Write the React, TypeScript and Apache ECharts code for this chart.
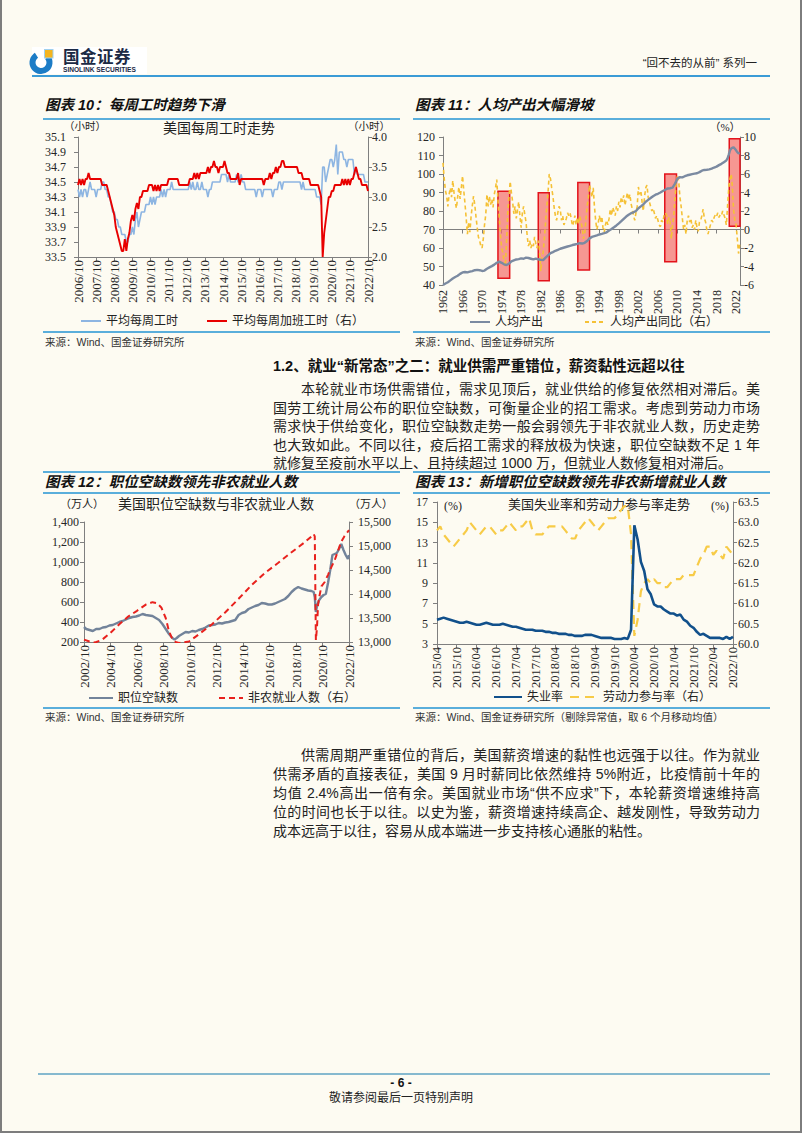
import React, { useEffect, useRef } from "react";
import * as echarts from "echarts";

const SERIF = "'Liberation Serif', 'Times New Roman', serif";
const CJK = "'Liberation Serif', 'Noto Sans CJK SC', serif";
const SANSCJK = "'Liberation Sans', 'Noto Sans CJK SC', sans-serif";
const AXIS_COLOR = "#7f7f7f";
const LABEL_COLOR = "#262626";
const RULE = "#5aaedb";

// ---------- Chart 10: weekly hours (monthly, 2006/10 - 2022/10) ----------
const hoursStart: [number, number] = [2006, 10];
const avgWeeklyHours = [
  34.4, 34.3, 34.4,
  34.3, 34.4, 34.4, 34.3, 34.4, 34.5, 34.4, 34.4, 34.4, 34.3, 34.4, 34.4,
  34.4, 34.5, 34.5, 34.4, 34.4, 34.3, 34.3, 34.2, 34.1, 34.1, 34.0, 34.0,
  33.9, 33.9, 33.8, 33.8, 33.8, 33.7, 33.7, 33.8, 33.8, 33.9, 33.8, 34.0,
  34.1, 33.9, 34.0, 34.1, 34.1, 34.1, 34.2, 34.2, 34.2, 34.3, 34.2, 34.3,
  34.2, 34.3, 34.3, 34.3, 34.4, 34.3, 34.4, 34.3, 34.4, 34.4, 34.4, 34.5,
  34.4, 34.4, 34.4, 34.4, 34.4, 34.4, 34.4, 34.4, 34.4, 34.4, 34.4, 34.5,
  34.4, 34.5, 34.4, 34.4, 34.5, 34.4, 34.4, 34.5, 34.4, 34.4, 34.4, 34.3,
  34.4, 34.4, 34.5, 34.5, 34.5, 34.5, 34.5, 34.5, 34.6, 34.6, 34.6, 34.6,
  34.5, 34.6, 34.5, 34.5, 34.5, 34.5, 34.6, 34.5, 34.5, 34.6, 34.5, 34.5,
  34.4, 34.4, 34.4, 34.4, 34.4, 34.4, 34.4, 34.3, 34.4, 34.4, 34.4, 34.3,
  34.4, 34.4, 34.4, 34.4, 34.4, 34.4, 34.3, 34.4, 34.4, 34.4, 34.5, 34.5,
  34.4, 34.5, 34.5, 34.5, 34.5, 34.5, 34.5, 34.5, 34.5, 34.5, 34.5, 34.5,
  34.5, 34.4, 34.5, 34.4, 34.4, 34.4, 34.4, 34.4, 34.4, 34.4, 34.4, 34.3,
  34.3, 34.3, 34.2, 34.7, 34.7, 34.5, 34.6, 34.7, 34.8, 34.8, 34.7, 34.8,
  35.0, 34.6, 34.9, 34.9, 34.9, 34.8, 34.8, 34.7, 34.8, 34.8, 34.8, 34.8,
  34.6, 34.7, 34.6, 34.6, 34.6, 34.6, 34.6, 34.5, 34.5, 34.5,
];
const avgOvertimeHours = [
  3.2, 3.3, 3.2,
  3.3, 3.2, 3.3, 3.3, 3.4, 3.3, 3.3, 3.3, 3.3, 3.3, 3.3, 3.3,
  3.3, 3.2, 3.2, 3.2, 3.2, 3.1, 3.0, 2.9, 2.8, 2.7, 2.5, 2.4,
  2.3, 2.2, 2.1, 2.1, 2.3, 2.1, 2.3, 2.4, 2.6, 2.7, 2.6, 2.8,
  2.9, 2.8, 3.0, 3.0, 3.1, 3.1, 3.1, 3.1, 3.2, 3.2, 3.2, 3.1,
  3.2, 3.1, 3.2, 3.1, 3.2, 3.2, 3.2, 3.2, 3.2, 3.3, 3.3, 3.3,
  3.3, 3.3, 3.3, 3.3, 3.2, 3.2, 3.2, 3.2, 3.2, 3.2, 3.2, 3.3,
  3.3, 3.3, 3.4, 3.3, 3.4, 3.3, 3.4, 3.4, 3.4, 3.4, 3.4, 3.5,
  3.4, 3.5, 3.5, 3.6, 3.5, 3.5, 3.4, 3.5, 3.5, 3.5, 3.6, 3.5,
  3.4, 3.4, 3.3, 3.3, 3.3, 3.3, 3.3, 3.4, 3.2, 3.3, 3.3, 3.3,
  3.3, 3.3, 3.3, 3.3, 3.3, 3.3, 3.3, 3.3, 3.3, 3.3, 3.3, 3.3,
  3.2, 3.3, 3.3, 3.3, 3.4, 3.3, 3.4, 3.4, 3.5, 3.4, 3.5, 3.5,
  3.6, 3.6, 3.5, 3.5, 3.5, 3.5, 3.5, 3.5, 3.5, 3.5, 3.5, 3.4,
  3.4, 3.4, 3.3, 3.3, 3.3, 3.3, 3.3, 3.2, 3.2, 3.2, 3.2, 3.2,
  3.2, 3.1, 3.0, 2.0, 2.4, 2.6, 2.8, 3.0, 3.0, 3.1, 3.1, 3.2,
  3.2, 3.2, 3.2, 3.2, 3.3, 3.2, 3.3, 3.2, 3.3, 3.2, 3.3, 3.3,
  3.4, 3.5, 3.4, 3.3, 3.3, 3.2, 3.2, 3.2, 3.2, 3.1,
];

// ---------- Chart 11: output per capita (index) and YoY % ----------
const outputIndex: [number, number][] = [
  [1962, 40], [1962.5, 40.8], [1963, 41.5], [1963.5, 42.5], [1964, 43.5], [1964.5, 44.3], [1965, 45], [1965.5, 46],
  [1966, 46.8], [1966.5, 47], [1967, 46.8], [1967.5, 47.2], [1968, 47.5], [1968.5, 48], [1969, 48.2], [1969.5, 48],
  [1970, 47.6], [1970.5, 47.8], [1971, 48.8], [1971.5, 49.5], [1972, 50.2], [1972.5, 51], [1973, 52], [1973.5, 52.6],
  [1974, 52], [1974.5, 51.2], [1975, 50.8], [1975.5, 51.5], [1976, 52.8], [1976.5, 53.3], [1977, 53.8], [1977.5, 54],
  [1978, 54.4], [1978.5, 54.2], [1979, 54.8], [1979.5, 54.6], [1980, 54.2], [1980.5, 53.8], [1981, 54.3], [1981.5, 53.9],
  [1982, 53.6], [1982.5, 53.5], [1983, 54.8], [1983.5, 56], [1984, 57.2], [1984.5, 57.8], [1985, 58.5], [1985.5, 59],
  [1986, 59.6], [1986.5, 60], [1987, 60.4], [1987.5, 60.8], [1988, 61.2], [1988.5, 61.6], [1989, 61.9], [1989.5, 62.2],
  [1990, 62.6], [1990.5, 62.4], [1991, 62.8], [1991.5, 63.8], [1992, 65.2], [1992.5, 66], [1993, 66.4], [1993.5, 66.8],
  [1994, 67.3], [1994.5, 67.6], [1995, 68], [1995.5, 68.5], [1996, 69.5], [1996.5, 70.3], [1997, 71.2], [1997.5, 72.2],
  [1998, 73.3], [1998.5, 74.5], [1999, 75.8], [1999.5, 77], [2000, 78], [2000.5, 78.8], [2001, 79.3], [2001.5, 80],
  [2002, 81.5], [2002.5, 82.5], [2003, 83.6], [2003.5, 85], [2004, 86], [2004.5, 87], [2005, 88], [2005.5, 88.8],
  [2006, 89.3], [2006.5, 90], [2007, 90.8], [2007.5, 91.5], [2008, 92.2], [2008.5, 92.3], [2009, 92.6], [2009.5, 94.8],
  [2010, 97.5], [2010.5, 98.3], [2011, 98.2], [2011.5, 98.8], [2012, 99.3], [2012.5, 99.6], [2013, 99.9], [2013.5, 100.2],
  [2014, 100.4], [2014.5, 101], [2015, 101.8], [2015.5, 102.2], [2016, 102.3], [2016.5, 102.5], [2017, 102.9], [2017.5, 103.5],
  [2018, 104], [2018.5, 104.8], [2019, 105.5], [2019.5, 106.4], [2020, 107.3], [2020.25, 108.5], [2020.5, 110.5], [2020.75, 112.8],
  [2021, 113.8], [2021.25, 114.2], [2021.5, 114.4], [2021.75, 113.6], [2022, 112.8], [2022.25, 111.8], [2022.5, 111.2], [2022.75, 111.4],
];
const outputYoY: [number, number][] = [
  [1962, 7.2], [1962.25, 5.5], [1962.5, 4.2], [1962.75, 3.6], [1963, 2.5], [1963.25, 3.8], [1963.5, 4.5], [1963.75, 3.5],
  [1964, 5.3], [1964.25, 4], [1964.5, 3], [1964.75, 2.3], [1965, 3.5], [1965.25, 4.6], [1965.5, 3.3], [1965.75, 4.5],
  [1966, 5.8], [1966.25, 4.2], [1966.5, 2.8], [1966.75, 1.2], [1967, -0.5], [1967.25, 0.8], [1967.5, -0.3], [1967.75, 1.4],
  [1968, 2.6], [1968.25, 3.6], [1968.5, 2.7], [1968.75, 1.4], [1969, 0.2], [1969.25, -0.8], [1969.5, -1.2], [1969.75, -1.8],
  [1970, -2], [1970.25, -1], [1970.5, 0.5], [1970.75, 1.6], [1971, 3.8], [1971.25, 2.5], [1971.5, 3.6], [1971.75, 2.7],
  [1972, 3.3], [1972.25, 2.4], [1972.5, 3.8], [1972.75, 4.5], [1973, 5.4], [1973.25, 3.2], [1973.5, 1.5], [1973.75, -0.5],
  [1974, -2], [1974.25, -2.5], [1974.5, -3.4], [1974.75, -4], [1975, -1.5], [1975.25, 1.8], [1975.5, 3.5], [1975.75, 5.2],
  [1976, 4], [1976.25, 3], [1976.5, 1.7], [1976.75, 2.5], [1977, 1.2], [1977.25, 2.1], [1977.5, 3], [1977.75, 1.4],
  [1978, 0.2], [1978.25, 1.8], [1978.5, 2.5], [1978.75, 1.6], [1979, 0.8], [1979.25, -0.8], [1979.5, -1.8], [1979.75, -1.2],
  [1980, -2], [1980.25, -1.5], [1980.5, -1.8], [1980.75, -0.8], [1981, -1.5], [1981.25, -2], [1981.5, -1.2], [1981.75, -2.2],
  [1982, -4.5], [1982.25, -3], [1982.5, -2.5], [1982.75, -1], [1983, 0.8], [1983.25, 2.5], [1983.5, 4], [1983.75, 6],
  [1984, 5.5], [1984.25, 4.5], [1984.5, 3.6], [1984.75, 2.4], [1985, 1.5], [1985.25, 1], [1985.5, 1.8], [1985.75, 2.5],
  [1986, 2.2], [1986.25, 1], [1986.5, 1.5], [1986.75, 0.5], [1987, 0.8], [1987.25, 1.2], [1987.5, 1.8], [1987.75, 1.5],
  [1988, 1.8], [1988.25, 1.2], [1988.5, 0.4], [1988.75, 0.8], [1989, 1.5], [1989.25, 0.5], [1989.5, 1.3], [1989.75, 0.6],
  [1990, 1.5], [1990.25, 0.8], [1990.5, 0.2], [1990.75, -1], [1991, -0.5], [1991.25, 1], [1991.5, 2.5], [1991.75, 3.5],
  [1992, 4.8], [1992.25, 4.2], [1992.5, 3.5], [1992.75, 4.5], [1993, 2.5], [1993.25, 1], [1993.5, 0], [1993.75, 0.6],
  [1994, 1.5], [1994.25, 0.8], [1994.5, 1.4], [1994.75, 0.2], [1995, -0.3], [1995.25, 0.5], [1995.5, 1], [1995.75, 0.5],
  [1996, 1.2], [1996.25, 2.2], [1996.5, 1.5], [1996.75, 2.4], [1997, 2], [1997.25, 1.5], [1997.5, 2.5], [1997.75, 2],
  [1998, 3], [1998.25, 2.4], [1998.5, 3.5], [1998.75, 3], [1999, 3.7], [1999.25, 2.6], [1999.5, 3.3], [1999.75, 4],
  [2000, 3.2], [2000.25, 3.8], [2000.5, 2.8], [2000.75, 2.2], [2001, 1.5], [2001.25, 1], [2001.5, 1.8], [2001.75, 2.5],
  [2002, 4.6], [2002.25, 3.8], [2002.5, 4.2], [2002.75, 3], [2003, 2], [2003.25, 3.5], [2003.5, 4.5], [2003.75, 4.8],
  [2004, 3.5], [2004.25, 3], [2004.5, 2.5], [2004.75, 2], [2005, 2.3], [2005.25, 1.8], [2005.5, 1.2], [2005.75, 1.5],
  [2006, 1], [2006.25, 0.5], [2006.5, 0.3], [2006.75, 1], [2007, 0.8], [2007.25, 1.5], [2007.5, 1.8], [2007.75, 1.6],
  [2008, 0.6], [2008.25, 1.3], [2008.5, 0.8], [2008.75, -1], [2009, 0.5], [2009.25, 1.5], [2009.5, 3.5], [2009.75, 5],
  [2010, 5.9], [2010.25, 5.2], [2010.5, 3.5], [2010.75, 2.5], [2011, 1.2], [2011.25, 0], [2011.5, 0.5], [2011.75, -0.5],
  [2012, 1], [2012.25, 1.5], [2012.5, 0.8], [2012.75, 1.2], [2013, 0.2], [2013.25, 0.5], [2013.5, 0], [2013.75, 1],
  [2014, 0.2], [2014.25, -0.2], [2014.5, 0.8], [2014.75, 1], [2015, 1.5], [2015.25, 2.2], [2015.5, 1.2], [2015.75, 0.8],
  [2016, 0], [2016.25, -0.5], [2016.5, 0], [2016.75, 0.5], [2017, 1], [2017.25, 0.8], [2017.5, 1.3], [2017.75, 1.6],
  [2018, 1.4], [2018.25, 1.8], [2018.5, 1.3], [2018.75, 1.6], [2019, 1.5], [2019.25, 2], [2019.5, 1.6], [2019.75, 1.2],
  [2020, 0.5], [2020.25, 2.5], [2020.5, 4.5], [2020.75, 5.5], [2021, 6], [2021.25, 4.5], [2021.5, 2], [2021.75, 1],
  [2022, 0.5], [2022.25, -1], [2022.5, -2.6], [2022.75, -1.5],
];
// highlighted periods: [start, end, low, high] (left-axis units)
const highlightPeriods: [number, number, number, number][] = [
  [1973.25, 1975.65, 43.6, 90.7],
  [1981.5, 1983.75, 42.3, 89.8],
  [1989.6, 1992.0, 48.1, 95.4],
  [2007.4, 2009.8, 52.6, 100.0],
  [2020.6, 2022.8, 71.8, 119.1],
];

// ---------- Chart 12: job openings & nonfarm payrolls (万人) ----------
const jobOpenings: [string, number][] = [
  ["2002/10", 350], ["2002/12", 330], ["2003/03", 320], ["2003/06", 310], ["2003/09", 330], ["2003/12", 330],
  ["2004/03", 345], ["2004/06", 350], ["2004/09", 365], ["2004/12", 370], ["2005/03", 385], ["2005/06", 400],
  ["2005/09", 410], ["2005/12", 425], ["2006/03", 440], ["2006/06", 450], ["2006/09", 455], ["2006/12", 465],
  ["2007/03", 480], ["2007/06", 470], ["2007/09", 465], ["2007/12", 460], ["2008/03", 440], ["2008/06", 420],
  ["2008/09", 380], ["2008/12", 330], ["2009/03", 280], ["2009/06", 240], ["2009/08", 225], ["2009/10", 240],
  ["2009/12", 260], ["2010/03", 280], ["2010/06", 300], ["2010/09", 295], ["2010/12", 310], ["2011/03", 305],
  ["2011/06", 320], ["2011/09", 330], ["2011/12", 345], ["2012/03", 365], ["2012/06", 370], ["2012/09", 375],
  ["2012/12", 390], ["2013/03", 385], ["2013/06", 395], ["2013/09", 400], ["2013/12", 410], ["2014/03", 420],
  ["2014/06", 470], ["2014/09", 490], ["2014/12", 500], ["2015/03", 530], ["2015/06", 545], ["2015/09", 560],
  ["2015/12", 570], ["2016/03", 590], ["2016/06", 585], ["2016/09", 575], ["2016/12", 575], ["2017/03", 585],
  ["2017/06", 600], ["2017/09", 615], ["2017/12", 630], ["2018/03", 660], ["2018/06", 700], ["2018/09", 730],
  ["2018/12", 750], ["2019/03", 735], ["2019/06", 725], ["2019/09", 715], ["2019/12", 710], ["2020/02", 700],
  ["2020/03", 650], ["2020/04", 500], ["2020/05", 560], ["2020/07", 620], ["2020/09", 650], ["2020/11", 670],
  ["2021/01", 680], ["2021/03", 790], ["2021/05", 920], ["2021/07", 1070], ["2021/09", 1080], ["2021/11", 1090],
  ["2022/01", 1130], ["2022/03", 1180], ["2022/05", 1120], ["2022/07", 1070], ["2022/09", 1030], ["2022/10", 1070],
];
const nonfarmPayrolls: [string, number][] = [
  ["2002/10", 13050], ["2003/03", 13010], ["2003/08", 12990], ["2004/02", 13040], ["2004/10", 13190],
  ["2005/06", 13370], ["2006/02", 13530], ["2006/10", 13650], ["2007/06", 13780], ["2007/12", 13830],
  ["2008/04", 13810], ["2008/08", 13720], ["2008/12", 13500], ["2009/03", 13220], ["2009/06", 13060],
  ["2009/09", 13000], ["2009/12", 12980], ["2010/03", 12990], ["2010/09", 13010], ["2011/06", 13160],
  ["2012/06", 13370], ["2013/06", 13620], ["2014/06", 13900], ["2015/06", 14190], ["2016/06", 14440],
  ["2017/06", 14650], ["2018/06", 14870], ["2019/06", 15080], ["2019/12", 15200], ["2020/02", 15250],
  ["2020/03", 15200], ["2020/04", 13040], ["2020/05", 13300], ["2020/06", 13780], ["2020/07", 13930],
  ["2020/09", 14160], ["2020/12", 14250], ["2021/03", 14400], ["2021/06", 14560], ["2021/09", 14700],
  ["2021/12", 14900], ["2022/03", 15090], ["2022/06", 15210], ["2022/10", 15330],
];

// ---------- Chart 13: unemployment rate & participation (monthly, 2015/04 - 2022/10) ----------
const ratesStart: [number, number] = [2015, 4];
const unemploymentRate = [
  5.4, 5.5, 5.6, 5.5, 5.4, 5.3, 5.2, 5.1, 5.1,
  5.2, 5.1, 5.0, 4.9, 4.9, 5.0, 5.1, 5.0, 4.9, 4.9, 4.9, 5.0,
  4.9, 4.8, 4.7, 4.7, 4.6, 4.5, 4.4, 4.4, 4.4, 4.3, 4.3, 4.3,
  4.2, 4.2, 4.1, 4.1, 4.0, 4.0, 4.0, 3.9, 3.9, 3.8, 3.8, 3.8,
  3.9, 3.9, 3.9, 3.8, 3.7, 3.6, 3.6, 3.6, 3.6, 3.5, 3.5, 3.5,
  3.6, 3.5, 4.4, 14.7, 13.3, 11.1, 10.2, 8.4, 7.9, 6.9, 6.7, 6.7,
  6.4, 6.2, 6.0, 6.0, 5.8, 5.9, 5.4, 5.2, 4.8, 4.6, 4.2, 3.9,
  4.0, 3.8, 3.6, 3.6, 3.6, 3.6, 3.5, 3.7, 3.5, 3.7,
];
const participationRate = [
  62.8, 62.9, 62.7, 62.6, 62.5, 62.4, 62.5, 62.6, 62.7,
  62.8, 63.0, 62.9, 62.8, 62.7, 62.8, 62.9, 62.9, 62.8, 62.7, 62.8, 62.8,
  62.9, 63.0, 62.9, 62.8, 62.9, 62.9, 63.0, 63.1, 62.8, 62.7, 62.7, 62.7,
  62.8, 62.9, 62.9, 62.9, 62.9, 62.9, 62.8, 62.7, 62.6, 62.6, 62.8, 62.9,
  63.0, 63.1, 63.0, 62.9, 62.8, 62.9, 63.0, 63.1, 63.1, 63.1, 63.2, 63.3,
  63.4, 63.4, 62.7, 60.2, 60.6, 61.3, 61.5, 61.6, 61.5, 61.6, 61.5, 61.5,
  61.4, 61.4, 61.5, 61.6, 61.6, 61.6, 61.7, 61.7, 61.7, 61.7, 61.9, 62.1,
  62.2, 62.4, 62.4, 62.2, 62.3, 62.2, 62.1, 62.4, 62.3, 62.2,
];

// ---------- text ----------
const para1 = [
  "本轮就业市场供需错位，需求见顶后，就业供给的修复依然相对滞后。美",
  "国劳工统计局公布的职位空缺数，可衡量企业的招工需求。考虑到劳动力市场",
  "需求快于供给变化，职位空缺数走势一般会弱领先于非农就业人数，历史走势",
  "也大致如此。不同以往，疫后招工需求的释放极为快速，职位空缺数不足 1 年",
  "就修复至疫前水平以上、且持续超过 1000 万，但就业人数修复相对滞后。",
];
const para2 = [
  "供需周期严重错位的背后，美国薪资增速的黏性也远强于以往。作为就业",
  "供需矛盾的直接表征，美国 9 月时薪同比依然维持 5%附近，比疫情前十年的",
  "均值 2.4%高出一倍有余。美国就业市场“供不应求”下，本轮薪资增速维持高",
  "位的时间也长于以往。以史为鉴，薪资增速持续高企、越发刚性，导致劳动力",
  "成本远高于以往，容易从成本端进一步支持核心通胀的粘性。",
];

// ---------- helpers ----------
function monthLabels(start: [number, number], n: number): string[] {
  const out: string[] = [];
  let [y, m] = start;
  for (let i = 0; i < n; i++) {
    out.push(`${y}/${String(m).padStart(2, "0")}`);
    m++;
    if (m > 12) { m = 1; y++; }
  }
  return out;
}
const monthIndexFrom = (base: [number, number]) => (s: string) => {
  const [y, m] = s.split("/").map(Number);
  return (y - base[0]) * 12 + (m - base[1]);
};

const txt = (x: number, y: number, text: string, size: number, family = CJK) => ({
  type: "text",
  x,
  y,
  silent: true,
  style: {
    text,
    fill: "#222",
    font: `${size}px ${family}`,
    align: "center",
    verticalAlign: "middle",
    textAlign: "center",
    textVerticalAlign: "middle",
  },
});

const axisLabelBase = { fontFamily: SERIF, fontSize: 12, color: LABEL_COLOR };
const axisLineBase = { show: true, lineStyle: { color: AXIS_COLOR, width: 1 } };
const axisTickBase = { show: true, length: 4, lineStyle: { color: AXIS_COLOR } };
const legendBase = {
  itemHeight: 10,
  padding: 0,
  itemStyle: { opacity: 0, borderWidth: 0 },
  textStyle: { fontFamily: CJK, fontSize: 12, color: "#222" },
  selectedMode: false,
};

// ---------- options ----------
const months10 = monthLabels(hoursStart, avgWeeklyHours.length);
const option10 = {
  animation: false,
  grid: { left: 38, top: 17, width: 290, height: 120, containLabel: false, outerBoundsMode: "none" },
  graphic: [
    txt(45, 6, "（小时）", 10.5),
    txt(179, 8, "美国每周工时走势", 14),
    txt(329, 6, "（小时）", 10.5),
  ],
  legend: { ...legendBase, left: 40, top: 195, itemWidth: 20, itemGap: 28,
    data: ["平均每周工时", "平均每周加班工时（右）"] },
  xAxis: {
    type: "category", data: months10, boundaryGap: false,
    axisLine: axisLineBase,
    axisTick: { ...axisTickBase, interval: 11 },
    axisLabel: { ...axisLabelBase, fontSize: 13, interval: 11, rotate: 90, margin: 3 },
    splitLine: { show: false },
  },
  yAxis: [
    { type: "value", min: 33.5, max: 35.1, interval: 0.2, axisLine: axisLineBase, axisTick: axisTickBase,
      axisLabel: { ...axisLabelBase, margin: 12, formatter: (v: number) => v.toFixed(1) }, splitLine: { show: false } },
    { type: "value", min: 2, max: 4, interval: 0.5, position: "right", axisLine: axisLineBase, axisTick: axisTickBase,
      axisLabel: { ...axisLabelBase, margin: 4, formatter: (v: number) => v.toFixed(1) }, splitLine: { show: false } },
  ],
  series: [
    { name: "平均每周工时", type: "line", data: avgWeeklyHours, yAxisIndex: 0, symbol: "none",
      lineStyle: { color: "#8db5e2", width: 1.6 }, itemStyle: { color: "#8db5e2" }, z: 2 },
    { name: "平均每周加班工时（右）", type: "line", data: avgOvertimeHours, yAxisIndex: 1, symbol: "none",
      lineStyle: { color: "#e80000", width: 1.9 }, itemStyle: { color: "#e80000" }, z: 3 },
  ],
};

const option11 = {
  animation: false,
  grid: { left: 33, top: 17, width: 297, height: 148, containLabel: false, outerBoundsMode: "none" },
  graphic: [txt(315, 7, "（%）", 11)],
  legend: { ...legendBase, left: 59, top: 196, itemWidth: 20, itemGap: 41,
    data: ["人均产出", "人均产出同比（右）"] },
  xAxis: {
    type: "value", min: 1962, max: 2022.8, interval: 4,
    axisLine: axisLineBase, axisTick: axisTickBase,
    axisLabel: { ...axisLabelBase, rotate: 90, margin: 5, showMaxLabel: false,
      formatter: (v: number) => (Number.isInteger(v) && (v - 1962) % 4 === 0 ? String(v) : "") },
    splitLine: { show: false },
  },
  yAxis: [
    { type: "value", min: 40, max: 120, interval: 10, axisLine: axisLineBase, axisTick: axisTickBase,
      axisLabel: { ...axisLabelBase, margin: 8 }, splitLine: { show: false } },
    { type: "value", min: -6, max: 10, interval: 2, position: "right", axisLine: axisLineBase, axisTick: axisTickBase,
      axisLabel: { ...axisLabelBase, margin: 4 }, splitLine: { show: false } },
  ],
  series: [
    { name: "人均产出同比（右）", type: "line", data: outputYoY, yAxisIndex: 1, symbol: "none",
      lineStyle: { color: "#f5c136", width: 1.6, type: [4, 3] }, itemStyle: { color: "#f5c136" }, z: 2 },
    { name: "periods", type: "line", data: [], yAxisIndex: 0, symbol: "none", z: 3,
      markArea: {
        silent: true,
        itemStyle: { color: "rgba(242,112,108,0.72)", borderColor: "#e3131b", borderWidth: 1.5 },
        data: highlightPeriods.map(([s, e, lo, hi]) => [{ xAxis: s, yAxis: lo }, { xAxis: e, yAxis: hi }]),
      } },
    { name: "人均产出", type: "line", data: outputIndex, yAxisIndex: 0, symbol: "none",
      lineStyle: { color: "#7b8aa1", width: 2.4 }, itemStyle: { color: "#7b8aa1" }, z: 4 },
  ],
};

const idx12 = monthIndexFrom([2002, 10]);
const option12 = {
  animation: false,
  grid: { left: 44, top: 28, width: 265, height: 120, containLabel: false, outerBoundsMode: "none" },
  graphic: [
    txt(42, 10, "（万人）", 11),
    txt(176, 10, "美国职位空缺数与非农就业人数", 14),
    txt(331, 10, "（万人）", 11),
  ],
  legend: { ...legendBase, left: 48, top: 198, itemWidth: 24, itemGap: 40,
    data: ["职位空缺数", "非农就业人数（右）"] },
  xAxis: {
    type: "value", min: 0, max: 240, interval: 24,
    axisLine: axisLineBase, axisTick: axisTickBase,
    axisLabel: { ...axisLabelBase, fontSize: 13, rotate: 90, margin: 3,
      formatter: (v: number) => `${2002 + v / 12}/10` },
    splitLine: { show: false },
  },
  yAxis: [
    { type: "value", min: 200, max: 1400, interval: 200, axisLine: axisLineBase, axisTick: axisTickBase,
      axisLabel: { ...axisLabelBase, margin: 5 }, splitLine: { show: false } },
    { type: "value", min: 13000, max: 15500, interval: 500, position: "right", axisLine: axisLineBase, axisTick: axisTickBase,
      axisLabel: { ...axisLabelBase, margin: 9 }, splitLine: { show: false } },
  ],
  series: [
    { name: "职位空缺数", type: "line", data: jobOpenings.map(([d, v]) => [idx12(d), v]), yAxisIndex: 0, symbol: "none",
      lineStyle: { color: "#72839a", width: 2.4 }, itemStyle: { color: "#72839a" }, z: 2 },
    { name: "非农就业人数（右）", type: "line", data: nonfarmPayrolls.map(([d, v]) => [idx12(d), v]), yAxisIndex: 1, symbol: "none",
      lineStyle: { color: "#e8211d", width: 2, type: [6, 4] }, itemStyle: { color: "#e8211d" }, z: 3 },
  ],
};

const months13 = monthLabels(ratesStart, unemploymentRate.length);
const option13 = {
  animation: false,
  grid: { left: 27, top: 8, width: 296, height: 142, containLabel: false, outerBoundsMode: "none" },
  graphic: [
    txt(43, 12, "(%)", 12, SERIF),
    txt(189, 10, "美国失业率和劳动力参与率走势", 13),
    txt(310, 12, "(%)", 12, SERIF),
  ],
  legend: { ...legendBase, left: 83, top: 197, itemWidth: 28, itemGap: 6,
    data: ["失业率", "劳动力参与率（右）"] },
  xAxis: {
    type: "category", data: months13, boundaryGap: false,
    axisLine: axisLineBase,
    axisTick: { ...axisTickBase, interval: 5 },
    axisLabel: { ...axisLabelBase, fontSize: 12.5, interval: 5, rotate: 90, margin: 3 },
    splitLine: { show: false },
  },
  yAxis: [
    { type: "value", min: 3, max: 17, interval: 2, axisLine: axisLineBase, axisTick: axisTickBase,
      axisLabel: { ...axisLabelBase, margin: 9 }, splitLine: { show: false } },
    { type: "value", min: 60, max: 63.5, interval: 0.5, position: "right", axisLine: axisLineBase, axisTick: axisTickBase,
      axisLabel: { ...axisLabelBase, margin: 5, formatter: (v: number) => v.toFixed(1) }, splitLine: { show: false } },
  ],
  series: [
    { name: "失业率", type: "line", data: unemploymentRate, yAxisIndex: 0, symbol: "none",
      lineStyle: { color: "#11508b", width: 2.6 }, itemStyle: { color: "#11508b" }, z: 3 },
    { name: "劳动力参与率（右）", type: "line", data: participationRate, yAxisIndex: 1, symbol: "none",
      lineStyle: { color: "#f7cb47", width: 2.2, type: [9, 6] }, itemStyle: { color: "#f7cb47" }, z: 2 },
  ],
};

// ---------- components ----------
function EChart({ option, style }: { option: any; style: React.CSSProperties }) {
  const ref = useRef<HTMLDivElement>(null);
  useEffect(() => {
    const chart = echarts.init(ref.current!, null, { renderer: "svg" });
    chart.setOption(option);
    return () => chart.dispose();
  }, [option]);
  return <div ref={ref} style={{ position: "absolute", ...style }} />;
}

const abs = (s: React.CSSProperties): React.CSSProperties => ({ position: "absolute", ...s });

function Rule({ x1, x2, y, color = RULE, h = 2 }: { x1: number; x2: number; y: number; color?: string; h?: number }) {
  return <div style={abs({ left: x1, top: y - h / 2, width: x2 - x1, height: h, background: color })} />;
}

function ChartTitle({ x, y, text }: { x: number; y: number; text: string }) {
  return (
    <div style={abs({ left: x, top: y - 10, height: 20, lineHeight: "20px", fontSize: 14.5, fontWeight: 700,
      fontStyle: "italic", fontFamily: SANSCJK, color: "#111", whiteSpace: "nowrap" })}>{text}</div>
  );
}

function Source({ x, y, text }: { x: number; y: number; text: string }) {
  return (
    <div style={abs({ left: x, top: y - 7, height: 14, lineHeight: "14px", fontSize: 10.5,
      fontFamily: SANSCJK, color: "#333", whiteSpace: "nowrap" })}>{text}</div>
  );
}

function Paragraph({ lines, top, pitch }: { lines: string[]; top: number; pitch: number }) {
  return (
    <>
      {lines.map((l, i) => {
        const first = i === 0;
        const last = i === lines.length - 1;
        return (
          <div key={i} style={abs({
            left: first ? 301 : 273, width: first ? 459 : 487, top: top + i * pitch - 9, height: 18,
            lineHeight: "18px", fontSize: 14, fontFamily: SANSCJK, color: "#222",
            textAlign: last ? "left" : "justify", textAlignLast: last ? "left" : "justify", whiteSpace: "nowrap",
          } as React.CSSProperties)}>{l}</div>
        );
      })}
    </>
  );
}

export default function App() {
  return (
    <div style={abs({ left: 0, top: 0, width: 802, height: 1133, background: "#fdfbf2", overflow: "hidden",
      boxSizing: "border-box", borderLeft: "2px solid #7d7d7d", borderRight: "2px solid #7d7d7d",
      borderBottom: "2px solid #7d7d7d" })}>
      <div style={abs({ left: -2, top: 0, width: 802, height: 1133 })}>
        {/* header */}
        <div style={abs({ left: 32, top: 47, width: 115, height: 27, background: "#ffffff" })} />
        <svg style={abs({ left: 29, top: 47, width: 28, height: 28 })} viewBox="0 0 28 28">
          <circle cx="12" cy="15.5" r="8.5" fill="none" stroke="#1c7cc6" strokeWidth="6"
            strokeDasharray="41 12.4" transform="rotate(-40 12 15.5)" />
          <rect x="15.5" y="2.5" width="8.5" height="8.5" fill="#f4b41e" stroke="#9fd0ee" strokeWidth="1" />
        </svg>
        <div style={abs({ left: 63, top: 48, height: 17, lineHeight: "17px", fontSize: 16.5, fontWeight: 700,
          fontFamily: "'Noto Sans CJK SC', sans-serif", color: "#1b2a45", letterSpacing: 0.5 })}>国金证券</div>
        <div style={abs({ left: 63, top: 66, height: 8, lineHeight: "8px", fontSize: 6.6, fontWeight: 700,
          fontFamily: "'Liberation Sans', sans-serif", color: "#1b2a45", whiteSpace: "nowrap" })}>SINOLINK SECURITIES</div>
        <div style={abs({ left: 600, width: 157, top: 55, height: 16, lineHeight: "16px", fontSize: 11.5,
          fontFamily: SANSCJK, color: "#222", textAlign: "right", whiteSpace: "nowrap" })}>“回不去的从前” 系列一</div>
        <Rule x1={32} x2={770} y={76} color="#3b9bd6" h={2} />

        {/* chart 10 & 11 */}
        <ChartTitle x={45} y={105} text="图表 10：每周工时趋势下滑" />
        <ChartTitle x={415} y={105} text="图表 11：人均产出大幅滑坡" />
        <Rule x1={43} x2={400} y={119} />
        <Rule x1={413} x2={770} y={119} />
        <EChart option={option10} style={{ left: 40, top: 120, width: 362, height: 210 }} />
        <EChart option={option11} style={{ left: 410, top: 120, width: 360, height: 210 }} />
        <Rule x1={43} x2={400} y={332} />
        <Rule x1={413} x2={770} y={332} />
        <Source x={45} y={342} text="来源：Wind、国金证券研究所" />
        <Source x={415} y={342} text="来源：Wind、国金证券研究所" />

        {/* section text 1 */}
        <div style={abs({ left: 273, top: 356, height: 20, lineHeight: "20px", fontSize: 14.5, fontWeight: 700,
          fontFamily: SANSCJK, color: "#111", whiteSpace: "nowrap" })}>1.2、就业“新常态”之二：就业供需严重错位，薪资黏性远超以往</div>
        <Paragraph lines={para1} top={389} pitch={18.5} />

        {/* chart 12 & 13 */}
        <Rule x1={43} x2={400} y={472} />
        <Rule x1={413} x2={770} y={472} />
        <ChartTitle x={45} y={482} text="图表 12：职位空缺数领先非农就业人数" />
        <ChartTitle x={415} y={482} text="图表 13：新增职位空缺数领先非农新增就业人数" />
        <Rule x1={43} x2={400} y={493} />
        <Rule x1={413} x2={770} y={493} />
        <EChart option={option12} style={{ left: 40, top: 494, width: 362, height: 212 }} />
        <EChart option={option13} style={{ left: 410, top: 494, width: 360, height: 212 }} />
        <Rule x1={43} x2={400} y={708} />
        <Rule x1={413} x2={770} y={708} />
        <Source x={45} y={717} text="来源：Wind、国金证券研究所" />
        <Source x={415} y={717} text="来源：Wind、国金证券研究所（剔除异常值，取 6 个月移动均值）" />

        {/* section text 2 */}
        <Paragraph lines={para2} top={755} pitch={19} />

        {/* footer */}
        <Rule x1={38} x2={770} y={1074} color="#86b9cf" h={2} />
        <div style={abs({ left: 371, width: 60, top: 1076, height: 14, lineHeight: "14px", fontSize: 12, fontWeight: 700,
          fontFamily: "'Liberation Sans', sans-serif", color: "#111", textAlign: "center" })}>- 6 -</div>
        <div style={abs({ left: 300, width: 202, top: 1090, height: 16, lineHeight: "16px", fontSize: 12,
          fontFamily: SANSCJK, color: "#222", textAlign: "center" })}>敬请参阅最后一页特别声明</div>
      </div>
    </div>
  );
}
